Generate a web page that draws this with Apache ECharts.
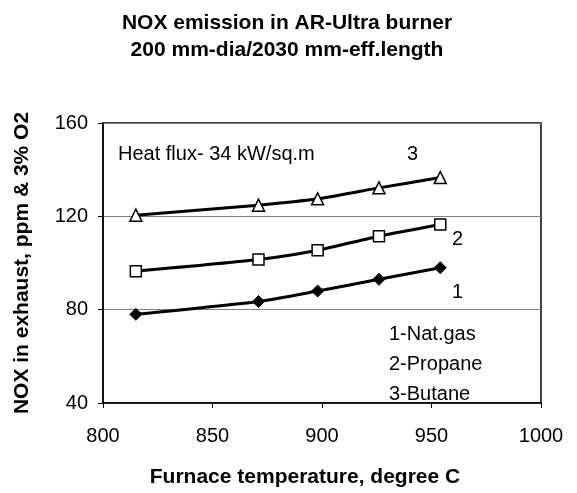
<!DOCTYPE html>
<html>
<head>
<meta charset="utf-8">
<script src="https://cdn.jsdelivr.net/npm/echarts@6/dist/echarts.min.js"></script>
<style>
  html, body { margin: 0; padding: 0; background: #fff; }
  #chart { width: 577px; height: 493px; }
</style>
</head>
<body>
<div id="chart"></div>
<script>
// furnace temperature, degree C
var temps = [815, 871, 898, 926, 954]
// NOX, ppm & 3% O2
var natGas = [78, 83.5, 88, 93, 98]
var propane = [96.5, 101.5, 105.5, 111.5, 116.5]
var butane = [120.5, 124.8, 127.5, 132.2, 136.6]
var yTicks = [40, 80, 120, 160]

function pairs(vals) {
  return temps.map(function (t, i) { return [t, vals[i]] })
}

var chart = echarts.init(document.getElementById('chart'))
var font = 'Liberation Sans, Arial, sans-serif'
var fs = 20

function note(x, y, s) {
  return { type: 'text', left: x, top: y, style: { text: s, fontFamily: font, fontSize: fs, fill: '#000' } }
}

chart.setOption({
  animation: false,
  title: {
    text: 'NOX emission in AR-Ultra burner\n200 mm-dia/2030 mm-eff.length',
    left: 282,
    top: 5,
    textAlign: 'center',
    textStyle: {
      fontFamily: font,
      fontSize: 21,
      fontWeight: 'bold',
      color: '#000',
      lineHeight: 27
    }
  },
  grid: {
    left: 103,
    right: 36,
    top: 123,
    bottom: 86,
    show: true,
    borderColor: '#000',
    borderWidth: 1.5
  },
  xAxis: {
    type: 'value',
    min: 800,
    max: 1000,
    interval: 50,
    name: 'Furnace temperature, degree C',
    nameLocation: 'middle',
    nameGap: 64,
    nameTextStyle: { fontFamily: font, fontSize: 21, fontWeight: 'bold', color: '#000', padding: [0, 34, 0, 0] },
    axisLine: { show: true, lineStyle: { color: '#000', width: 1.5 } },
    axisTick: { show: true, length: 5, lineStyle: { color: '#000' } },
    axisLabel: { fontFamily: font, fontSize: 20, color: '#000', margin: 23, formatter: function (v) { return String(v) } },
    splitLine: { show: false }
  },
  yAxis: {
    type: 'value',
    min: yTicks[0],
    max: yTicks[yTicks.length - 1],
    interval: 40,
    name: 'NOX in exhaust, ppm & 3% O2',
    nameLocation: 'middle',
    nameGap: 70,
    nameTextStyle: { fontFamily: font, fontSize: 21, fontWeight: 'bold', color: '#000' },
    axisLine: { show: true, lineStyle: { color: '#000', width: 1.5 } },
    axisTick: { show: true, length: 5, lineStyle: { color: '#000' } },
    axisLabel: { fontFamily: font, fontSize: 20, color: '#000', margin: 15 },
    splitLine: { show: true, lineStyle: { color: '#808080', width: 1 } }
  },
  series: [
    {
      name: '1-Nat.gas',
      type: 'line',
      smooth: 0.2,
      data: pairs(natGas),
      symbol: 'diamond',
      symbolSize: 12,
      itemStyle: { color: '#000', borderColor: '#000' },
      lineStyle: { color: '#000', width: 3 }
    },
    {
      name: '2-Propane',
      type: 'line',
      smooth: 0.2,
      data: pairs(propane),
      symbol: 'rect',
      symbolSize: 11,
      itemStyle: { color: '#fff', borderColor: '#000', borderWidth: 1.5 },
      lineStyle: { color: '#000', width: 3 }
    },
    {
      name: '3-Butane',
      type: 'line',
      smooth: 0.2,
      data: pairs(butane),
      symbol: 'triangle',
      symbolSize: 12,
      itemStyle: { color: '#fff', borderColor: '#000', borderWidth: 1.5 },
      lineStyle: { color: '#000', width: 3 }
    }
  ],
  graphic: [
    note(118, 144, 'Heat flux- 34 kW/sq.m'),
    note(407, 144, '3'),
    note(452, 229, '2'),
    note(452, 282, '1'),
    note(389, 324, '1-Nat.gas'),
    note(389, 354, '2-Propane'),
    note(389, 384, '3-Butane')
  ]
})
</script>
</body>
</html>
